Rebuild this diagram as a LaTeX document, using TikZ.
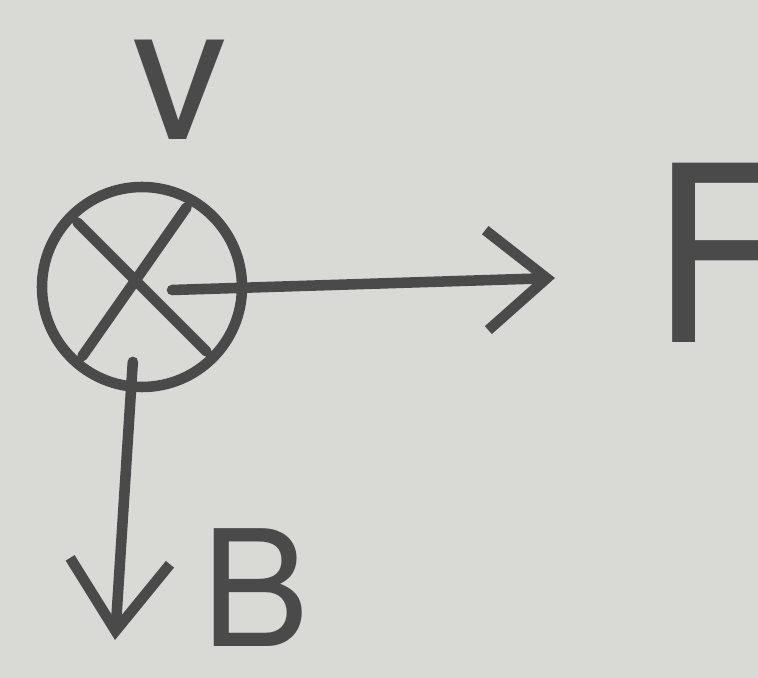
\documentclass[tikz,border=0pt]{standalone}
\usepackage{fontspec}
\setmainfont{TeX Gyre Heros}
\usetikzlibrary{arrows.meta,positioning}
\definecolor{paper}{HTML}{D9D9D6}
\definecolor{pencil}{HTML}{4A4A4A}
\tikzset{
	stroke/.style={draw=pencil,line width=3pt,line cap=round,line join=round},
	vec/.style={stroke,-{Straight Barb[length=#1,width=10mm,line width=3pt]}},
	vec/.default=6mm,
	letter/.style={text=pencil,inner sep=0pt,font=\fontsize{#1}{#1}\selectfont},
}
\newcommand{\intopage}[2]{\node[stroke,circle,minimum size=2cm,inner sep=0pt] (#1) at #2 {};
	\draw[stroke,shorten <=4pt,shorten >=4pt] (#1.135) -- (#1.-45);
	\draw[stroke,shorten <=4pt,shorten >=4pt] (#1.60) -- (#1.-130);}

\begin{document}
\begin{tikzpicture}
	\clip (0,0) rectangle (7.58,6.78);
	\fill[paper] (0,0) rectangle (7.58,6.78);

	\intopage{vel}{(1.42,3.91)}
	\node[letter=54pt] (v) at (1.80,5.88) {v};
	\node[letter=70pt,anchor=west] (F) at (6.50,4.25) {F};
	\node[letter=46pt] (B) at (2.55,0.90) {B};

	\coordinate (Fend) at (5.55,4.00);
	\coordinate (Bend) at (1.15,0.38);

	\draw[vec] (vel.center) ++(0.3,-0.03) coordinate (Fstart) -- (Fend);
	\draw[vec=7mm] (vel.-95) ++(0,0.3) coordinate (Bstart) -- (Bend);
\end{tikzpicture}
\end{document}
